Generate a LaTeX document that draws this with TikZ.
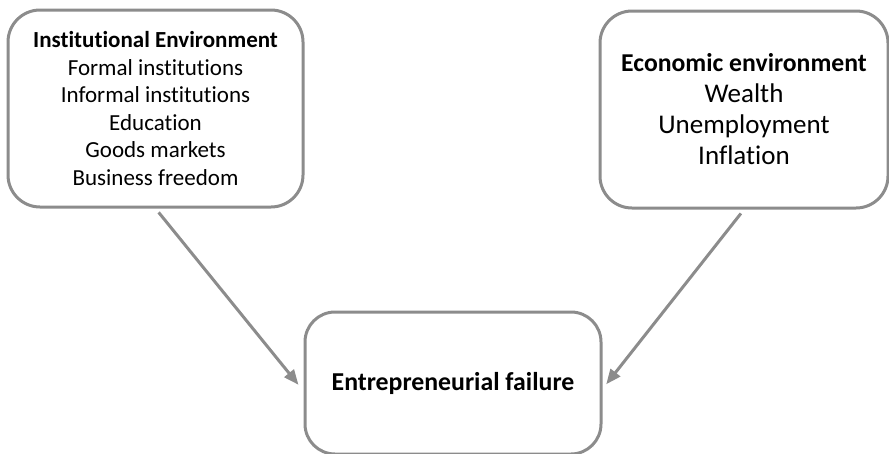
\documentclass[tikz,border=0pt]{standalone}
\usepackage{fontspec}
\setmainfont{Carlito}[RawFeature={-liga;-clig;-dlig;-calt}]
\usetikzlibrary{arrows.meta}
\definecolor{frame}{HTML}{8C8C8C}
\begin{document}
\begin{tikzpicture}[x=1pt,y=1pt,
  box/.style={draw=frame, line width=3pt, rounded corners=32pt, align=center,
    inner sep=0pt, text=black},
  link/.style={draw=frame, line width=3pt,
    -{Triangle[length=15pt,width=12pt]}, shorten <=5pt}]
  \useasboundingbox (0,0) rectangle (889,-453);
  % factor boxes
  \node[box, minimum width=295pt, minimum height=197pt,
        font=\fontsize{23}{27.6}\selectfont] (inst) at (155.5,-108.5)
    {\textbf{Institutional Environment}\\Formal institutions\\Informal institutions\\Education\\Goods markets\\Business freedom};
  \node[box, minimum width=288pt, minimum height=197pt,
        font=\fontsize{27}{31}\selectfont] (econ) at (744,-109.5)
    {{\fontsize{25.7}{31}\selectfont\bfseries Economic environment}\\Wealth\\Unemployment\\Inflation};
  % outcome box
  \node[box, rounded corners=30pt, minimum width=296pt, minimum height=142pt,
        font=\fontsize{25.8}{30}\selectfont\bfseries] (fail) at (453,-383)
    {Entrepreneurial failure};
  % influences
  \draw[link, shorten >=8pt] (inst.south) -- ([yshift=-8pt]fail.west);
  \draw[link, shorten >=6pt] (econ.south) -- ([yshift=-6pt]fail.east);
\end{tikzpicture}
\end{document}
